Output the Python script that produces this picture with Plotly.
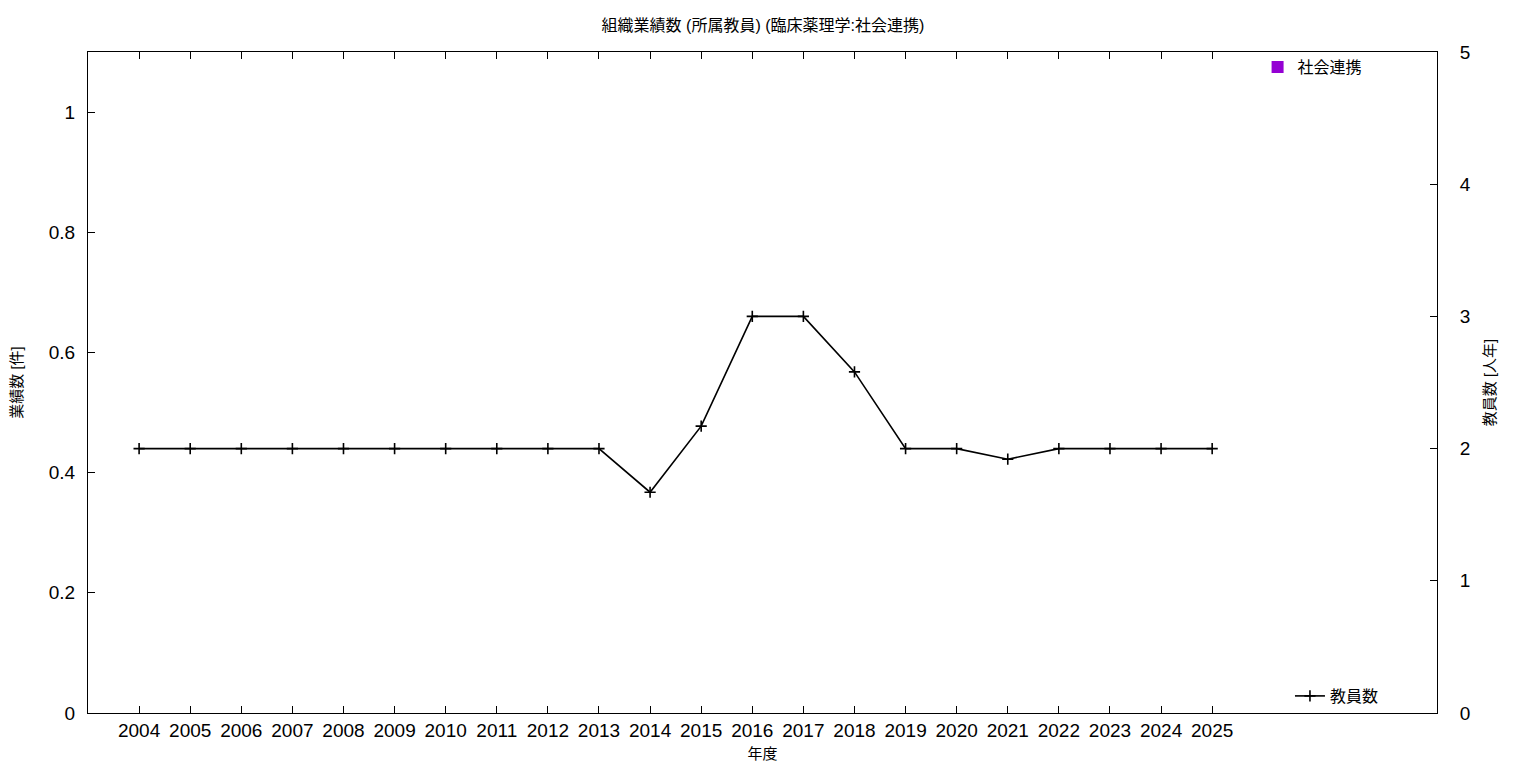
import plotly.graph_objects as go

years = list(range(2004, 2026))
year_labels = [str(y) for y in years]
social_values = [0] * len(years)
staff_counts = [2, 2, 2, 2, 2, 2, 2, 2, 2, 2, 1.67, 2.17, 3, 3, 2.58, 2, 2, 1.92, 2, 2, 2, 2]

left_ticks = [0, 0.2, 0.4, 0.6, 0.8, 1]
left_labels = ["0", "0.2", "0.4", "0.6", "0.8", "1"]
right_ticks = [0, 1, 2, 3, 4, 5]

FONT = "Liberation Sans, Arial, Noto Sans CJK JP, sans-serif"

fig = go.Figure()
fig.add_trace(go.Bar(
    x=years, y=social_values, name="社会連携",
    marker=dict(color="#9400D3", line=dict(color="black", width=0)),
    legend="legend", width=0.5,
))
fig.add_trace(go.Scatter(
    x=years, y=staff_counts, name="教員数", yaxis="y2",
    mode="lines+markers",
    line=dict(color="black", width=1.6),
    marker=dict(symbol="cross-thin", size=8, line=dict(color="black", width=1.6)),
    legend="legend2",
))

fig.update_layout(
    width=1536, height=768,
    margin=dict(l=80, r=107, t=44, b=63),
    paper_bgcolor="white", plot_bgcolor="white",
    font=dict(family=FONT, size=19, color="black"),
    title=dict(text="組織業績数 (所属教員) (臨床薬理学:社会連携)", x=0.4915, xanchor="center",
               y=0.977, yanchor="middle", font=dict(size=16)),
    xaxis=dict(range=[2003, 2029.4], tickvals=years, ticktext=year_labels,
               ticks="inside", ticklen=7, tickcolor="black", tickwidth=1,
               showline=True, linecolor="black", linewidth=1, mirror="ticks",
               showgrid=False, zeroline=False, automargin=False,
               title=dict(text="年度", font=dict(size=15), standoff=8)),
    yaxis=dict(range=[0, 1.1], tickvals=left_ticks, ticktext=left_labels,
               ticks="inside", ticklen=7, tickcolor="black",
               showline=True, linecolor="black", linewidth=1, mirror=True,
               showgrid=False, zeroline=False, ticklabelstandoff=8, automargin=False,
               title=dict(text="業績数 [件]", font=dict(size=15), standoff=26)),
    yaxis2=dict(range=[0, 5], tickvals=right_ticks, overlaying="y", side="right",
                ticks="inside", ticklen=7, tickcolor="black",
                showline=True, linecolor="black", linewidth=1, automargin=False,
                showgrid=False, zeroline=False, ticklabelstandoff=18,
                title=dict(text="教員数 [人年]", font=dict(size=15), standoff=14)),
    legend=dict(x=0.867, y=1.003, xanchor="left", yanchor="top",
                bgcolor="rgba(0,0,0,0)", font=dict(size=16)),
    legend2=dict(x=0.891, y=0.0, xanchor="left", yanchor="bottom",
                 bgcolor="rgba(0,0,0,0)", font=dict(size=16)),
    showlegend=True,
)

fig.write_html("out.html")
